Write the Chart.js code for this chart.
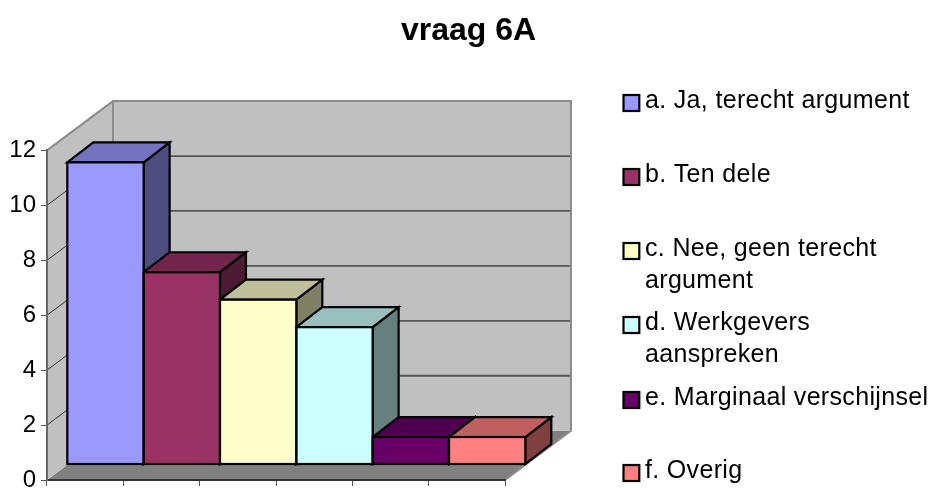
<!DOCTYPE html>
<html><head><meta charset="utf-8">
<style>html,body{margin:0;padding:0;background:#fff;overflow:hidden}canvas{display:block}</style>
<script src="https://cdn.jsdelivr.net/npm/chart.js@4"></script></head>
<body><canvas id="c" width="937" height="488"></canvas>
<script>
const categories = [["a. Ja, terecht argument"],["b. Ten dele"],["c. Nee, geen terecht","argument"],["d. Werkgevers","aanspreken"],["e. Marginaal verschijnsel"],["f. Overig"]];
const values = [11,7,6,5,1,1];
const colors = ['#9999FF','#993366','#FFFFCC','#CCFFFF','#660066','#FF8080'];
const topColors = ['#7373BF','#73264D','#BFBF99','#99BFBF','#4D004D','#BF6060'];
const sideColors = ['#4D4D80','#4D1A33','#808066','#668080','#330033','#804040'];
const yTicks = [0,2,4,6,8,10,12];
const titleText = 'vraag 6A';
const legendBaselines = [108,182,256,330,405,478];
const FONT = '"Liberation Sans", Arial, sans-serif';
const WALL = {dx:66, dy:-49.3}, FRONT = {dx:20.3, dy:-15.5}, BAR = {dx:26, dy:-20};

function poly(ctx, pts, fill, stroke, lw){
  ctx.beginPath();
  pts.forEach((p,i)=> i?ctx.lineTo(p[0],p[1]):ctx.moveTo(p[0],p[1]));
  ctx.closePath();
  if(fill){ctx.fillStyle=fill;ctx.fill();}
  if(stroke){ctx.strokeStyle=stroke;ctx.lineWidth=lw;ctx.stroke();}
}
const threeD = {
  id:'threeD',
  beforeDraw(chart){
    const {ctx, scales:{x,y}} = chart;
    const l=x.left, r=x.right, t=y.top, b=y.bottom, d=WALL;
    ctx.save();
    poly(ctx,[[l,b],[l+d.dx,b+d.dy],[r+d.dx,b+d.dy],[r,b]],'#808080');
    poly(ctx,[[l,t],[l+d.dx,t+d.dy],[l+d.dx,b+d.dy],[l,b]],'#C0C0C0');
    poly(ctx,[[l+d.dx,t+d.dy],[r+d.dx,t+d.dy],[r+d.dx,b+d.dy],[l+d.dx,b+d.dy]],'#C0C0C0');
    yTicks.slice(1,-1).forEach(v=>{
      const p=y.getPixelForValue(v);
      ctx.strokeStyle='#333';ctx.lineWidth=1;
      ctx.beginPath();ctx.moveTo(l,p);ctx.lineTo(l+d.dx,p+d.dy);ctx.stroke();
      ctx.strokeStyle='#555555';ctx.lineWidth=1.8;
      ctx.beginPath();ctx.moveTo(l+d.dx,p+d.dy);ctx.lineTo(r+d.dx,p+d.dy);ctx.stroke();
    });
    ctx.strokeStyle='#8c8c8c';ctx.lineWidth=2;
    ctx.beginPath();ctx.moveTo(l,t);ctx.lineTo(l+d.dx,t+d.dy);ctx.lineTo(r+d.dx,t+d.dy);ctx.lineTo(r+d.dx,b+d.dy);ctx.lineTo(r,b);ctx.stroke();
    ctx.beginPath();ctx.moveTo(l+d.dx,t+d.dy);ctx.lineTo(l+d.dx,b+d.dy);ctx.stroke();
    ctx.restore();
  },
  beforeDatasetsDraw(chart){
    const ctx=chart.ctx, meta=chart.getDatasetMeta(0);
    ctx.save();ctx.lineJoin='miter';
    meta.data.forEach((el,i)=>{
      const L=el.x-el.width/2+FRONT.dx, R=el.x+el.width/2+FRONT.dx, T=el.y+FRONT.dy, B=el.base+FRONT.dy;
      poly(ctx,[[R,T],[R+BAR.dx,T+BAR.dy],[R+BAR.dx,B+BAR.dy],[R,B]],sideColors[i],'#000',2.2);
      poly(ctx,[[L,T],[L+BAR.dx,T+BAR.dy],[R+BAR.dx,T+BAR.dy],[R,T]],topColors[i],'#000',2.2);
    });
    ctx.restore();
  },
  beforeDatasetDraw(chart){chart.ctx.save();chart.ctx.translate(FRONT.dx,FRONT.dy);},
  afterDatasetDraw(chart){chart.ctx.restore();},
  afterDatasetsDraw(chart){
    const ctx=chart.ctx, meta=chart.getDatasetMeta(0);
    ctx.save();ctx.strokeStyle='#000';ctx.lineWidth=2.2;
    meta.data.forEach(el=>{
      ctx.strokeRect(el.x-el.width/2+FRONT.dx, el.y+FRONT.dy, el.width, el.base-el.y);
    });
    ctx.restore();
  },
  afterDraw(chart){
    const ctx=chart.ctx;
    ctx.save();
    ctx.font='25px '+FONT;ctx.textBaseline='alphabetic';ctx.textAlign='left';
    if('letterSpacing' in ctx) ctx.letterSpacing='0.33px';
    categories.forEach((lines,i)=>{
      const by=legendBaselines[i];
      ctx.fillStyle=colors[i];ctx.fillRect(623.5,by-13,15.8,16);
      ctx.strokeStyle='#000';ctx.lineWidth=2.2;ctx.strokeRect(623.5,by-13,15.8,16);
      ctx.fillStyle='#000';
      lines.forEach((s,j)=>ctx.fillText(s,645,by+j*32));
    });
    ctx.restore();
  }
};
new Chart(document.getElementById('c'),{
  type:'bar',
  data:{labels:categories.map(c=>c.join(' ')),datasets:[{
    data:values,backgroundColor:colors,borderWidth:0,clip:false,
    barPercentage:1,categoryPercentage:1
  }]},
  plugins:[threeD],
  options:{
    responsive:false,animation:false,
    layout:{padding:0},
    plugins:{
      legend:{display:false},tooltip:{enabled:false},
      title:{display:true,text:titleText,color:'#000',font:{family:FONT,size:32,weight:'bold'},padding:{top:12,bottom:100}}
    },
    scales:{
      x:{grid:{offset:true,drawOnChartArea:false,drawTicks:true,tickLength:6,color:'#555',tickWidth:1},
         border:{color:'#333',width:2},ticks:{display:false},afterFit:s=>{s.height=8;s.paddingLeft=0;s.paddingRight=0;}},
      y:{min:0,max:12,afterBuildTicks:s=>{s.ticks=yTicks.map(v=>({value:v}));},
         grid:{drawOnChartArea:false,tickLength:6,color:'#555',tickWidth:1},
         border:{color:'#666',width:2},
         ticks:{color:'#000',font:{family:FONT,size:24},padding:5},afterFit:s=>{s.width=47;s.paddingTop=0;s.paddingBottom=0;}},
      spacer:{type:'linear',position:'right',axis:'y',display:true,grid:{display:false},border:{display:false},ticks:{display:false},
         afterFit:s=>{s.width=432;s.paddingTop=0;s.paddingBottom=0;}}
    }
  }
});
</script></body></html>
